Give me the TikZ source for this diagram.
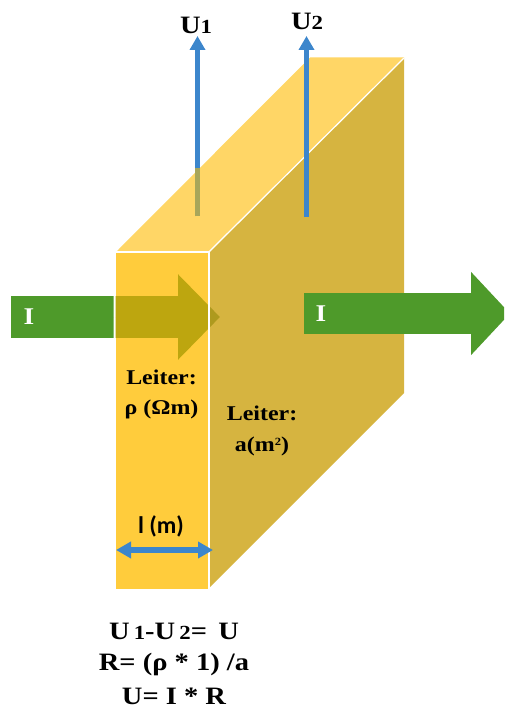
\documentclass[tikz,border=0pt]{standalone}
\usepackage{fontspec}
\usetikzlibrary{arrows.meta}
\setmainfont{Liberation Serif}
\newfontfamily\camb[FakeStretch=1.14]{Liberation Serif}
\newfontfamily\cali{Carlito}
\definecolor{frontc}{HTML}{FFCC3C}
\definecolor{topc}{HTML}{FFD666}
\definecolor{sidec}{HTML}{D6B440}
\definecolor{greenc}{HTML}{4E9A2A}
\definecolor{olivec}{HTML}{BDA60F}
\definecolor{olivedk}{HTML}{AE9A1E}
\definecolor{bluec}{HTML}{3C86CC}
\definecolor{blueol}{HTML}{A8A65A}
\tikzset{
  x=1pt,y=-1pt,
  greenarrow/.style={line width=42pt,-{Triangle[length=42pt,width=83pt]}},
  greenout/.style={line width=41pt,-{Triangle[length=39pt,width=81pt]}},
  voltarrow/.style={draw=bluec,line width=5.5pt,-{Triangle[length=14pt,width=15pt]}},
  dimarrow/.style={draw=bluec,line width=5.5pt,{Triangle[length=15pt,width=16pt]}-{Triangle[length=15pt,width=16pt]}},
  lab/.style={font=\camb\bfseries\fontsize{21}{23}\selectfont,text=black,inner sep=0pt,align=center},
  biglab/.style={font=\camb\bfseries\fontsize{25}{27}\selectfont,text=black,inner sep=0pt,align=center},
  curlab/.style={font=\camb\bfseries\fontsize{24}{26}\selectfont,text=white,inner sep=0pt},
  callab/.style={font=\cali\bfseries\fontsize{24}{26}\selectfont,text=black,inner sep=0pt},
}
\newcommand{\dig}[1]{{\fontsize{20}{22}\selectfont #1}}
\begin{document}
\begin{tikzpicture}
\useasboundingbox (0,0) rectangle (504,709);
\clip (0,0) rectangle (504,709);
% coordinates
\coordinate (iinA) at (11,317);
\coordinate (iinB) at (220,317);
\coordinate (ioutA) at (304,313.5);
\coordinate (ioutB) at (510,313.5);
\coordinate (u1a) at (197.5,216);
\coordinate (u1m) at (197.5,168);
\coordinate (u1b) at (197.5,36);
\coordinate (u2a) at (306.5,217);
\coordinate (u2b) at (306.5,36);
\coordinate (dl) at (116,550);
\coordinate (dr) at (213,550);
% block faces
\fill[topc] (117,251) -- (310,57.5) -- (404,57.5) -- (209,251) -- cycle;
\fill[sidec] (210,251) -- (404,58) -- (404,393) -- (210,587) -- cycle;
\draw[white,line width=1.2pt] (209.5,251.5) -- (404,58);
\draw[white,line width=1.2pt] (116,251.5) -- (209.5,251.5);
\fill[frontc] (115.5,252.5) rectangle (208.2,589);
% current in, three tones
\begin{scope}
  \clip (0,0) rectangle (113.5,709);
  \draw[greenarrow,draw=greenc,fill=greenc] (iinA) -- (iinB);
\end{scope}
\begin{scope}
  \clip (115.5,252) rectangle (208.2,589);
  \draw[greenarrow,draw=olivec,fill=olivec] (iinA) -- (iinB);
\end{scope}
\begin{scope}
  \clip (210,252) rectangle (240,589);
  \draw[greenarrow,draw=olivedk,fill=olivedk] (iinA) -- (iinB);
\end{scope}
\draw[white,line width=1.6pt] (209.2,251) -- (209.2,589);
% current out
\draw[greenout,draw=greenc,fill=greenc] (ioutA) -- (ioutB);
% voltage probes
\draw[voltarrow] (u1a) -- (u1b);
\draw[draw=blueol,line width=5.5pt] (u1a) -- (u1m);
\draw[voltarrow] (u2a) -- (u2b);
\draw[dimarrow] (dl) -- (dr);
% labels
\node[biglab] (tu1) at (196,25) {U\dig{1}};
\node[biglab] (tu2) at (307,21) {U\dig{2}};
\node[curlab] (ti1) at (29,317) {I};
\node[curlab] (ti2) at (321,314) {I};
\node[lab] (tl1) at (161.5,377) {Leiter:};
\node[lab] (tr1) at (161.5,409) {ρ (Ωm)};
\node[lab] (tl2) at (262,413) {Leiter:};
\node[lab] (ta) at (262,446) {a(m{\raisebox{6pt}{\fontsize{11}{12}\selectfont 2}})};
\node[callab] (tlen) at (161,526) {l (m)};
\node[biglab] (e1) at (174,631) {U\,\dig{1}-U\,\dig{2}=\, U};
\node[biglab] (e2) at (174,664) {R= (ρ * 1) /a};
\node[biglab] (e3) at (174,696) {U= I * R};
\end{tikzpicture}
\end{document}
